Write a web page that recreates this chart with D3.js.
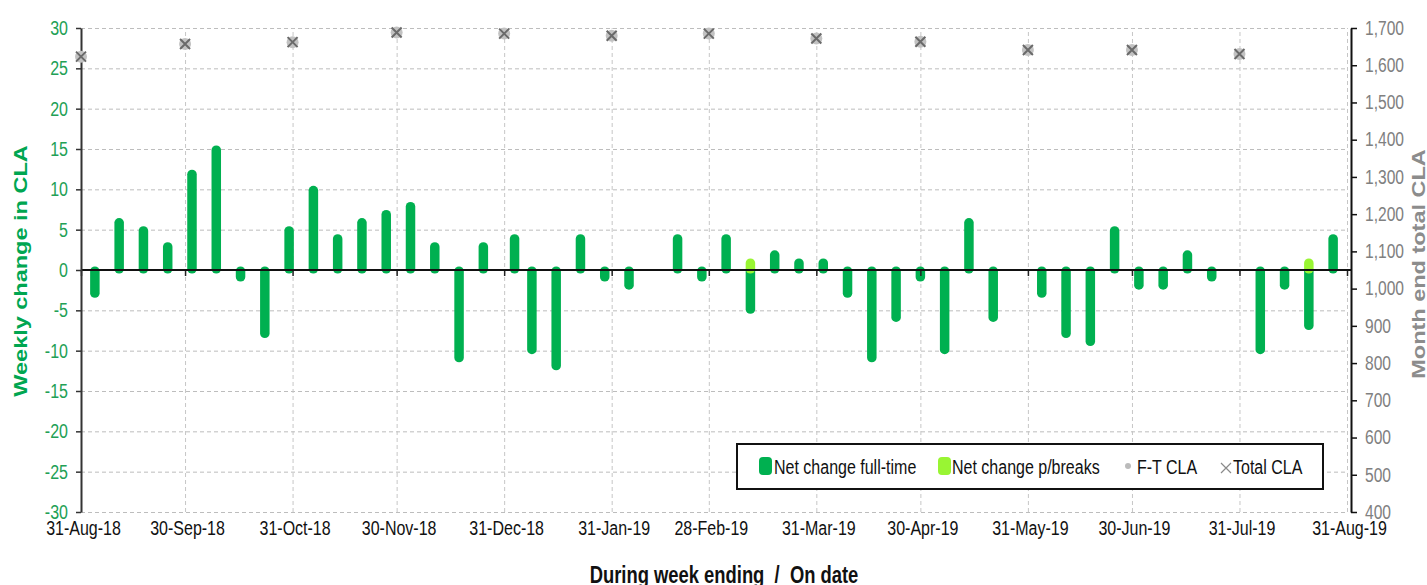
<!DOCTYPE html>
<html><head><meta charset="utf-8">
<script src="https://cdn.jsdelivr.net/npm/d3@7"></script>
<style>
body{margin:0;background:#fff}
svg{display:block}
text{font-family:"Liberation Sans",Arial,sans-serif}
</style>
</head><body>
<svg id="c" width="1427" height="585"></svg>
<script>
// ---------------- DATA ----------------
const weekDates = ["2018-09-04","2018-09-11","2018-09-18","2018-09-25","2018-10-02","2018-10-09","2018-10-16","2018-10-23","2018-10-30",
  "2018-11-06","2018-11-13","2018-11-20","2018-11-27","2018-12-04","2018-12-11","2018-12-18","2018-12-25","2019-01-03",
  "2019-01-08","2019-01-15","2019-01-22","2019-01-29","2019-02-05","2019-02-12","2019-02-19","2019-02-26","2019-03-05",
  "2019-03-12","2019-03-19","2019-03-26","2019-04-02","2019-04-09","2019-04-16","2019-04-23","2019-04-30","2019-05-07",
  "2019-05-14","2019-05-21","2019-05-28","2019-06-04","2019-06-11","2019-06-18","2019-06-25","2019-07-02","2019-07-09",
  "2019-07-16","2019-07-23","2019-07-30","2019-08-06","2019-08-13","2019-08-20","2019-08-27"];
const netFullTime = [-3,6,5,3,12,15,-1,-8,5,10,4,6,7,8,3,-11,3,4,-10,-12,4,-1,-2,0,4,-1,4,-5,2,1,1,-3,-11,-6,-1,-10,6,-6,0,-3,-8,-9,5,-2,-2,2,-1,0,-10,-2,-7,4];
const netPartTime = [0,0,0,0,0,0,0,0,0,0,0,0,0,0,0,0,0,0,0,0,0,0,0,0,0,0,0,1,0,0,0,0,0,0,0,0,0,0,0,0,0,0,0,0,0,0,0,0,0,0,1,0];
const monthEnds = ["2018-08-31","2018-09-30","2018-10-31","2018-11-30","2018-12-31","2019-01-31","2019-02-28","2019-03-31","2019-04-30","2019-05-31","2019-06-30","2019-07-31"];
const ftCLA    = [1623,1657,1662,1688,1685,1679,1685,1672,1663,1641,1641,1630];
const totalCLA = [1623,1657,1662,1688,1685,1679,1685,1672,1663,1641,1641,1630];
const xTickDates = ["2018-08-31","2018-09-30","2018-10-31","2018-11-30","2018-12-31","2019-01-31","2019-02-28","2019-03-31","2019-04-30","2019-05-31","2019-06-30","2019-07-31","2019-08-31"];
const leftTicks = [30,25,20,15,10,5,0,-5,-10,-15,-20,-25,-30];
const rightTicks = [1700,1600,1500,1400,1300,1200,1100,1000,900,800,700,600,500,400];
const legendLabels = ["Net change full-time","Net change p/breaks","F-T CLA","Total CLA"];
const leftTitle = "Weekly change in CLA";
const rightTitle = "Month end total CLA";
const xTitle = "During week ending  /  On date";

// ---------------- SETUP ----------------
const parse = d3.utcParse("%Y-%m-%d");
const svg = d3.select("#c");
const L = 81, R = 1347, T = 28, B = 512, RAX = 1351;
const SQ = 0.8;
const GREEN = "#00b050", LGREEN = "#99f533";

const x = d3.scaleUtc().domain([parse("2018-08-31"), parse("2019-08-31")]).range([L, R]);
const yL = d3.scaleLinear().domain([-30, 30]).range([B, T]);
const yR = d3.scaleLinear().domain([400, 1700]).range([B, T]);

function squish(sel, dx) {
  sel.each(function () {
    const t = d3.select(this);
    const tx = (+t.attr("x") || 0) + (dx || 0), ty = +t.attr("y") || 0;
    t.attr("x", null).attr("y", null).attr("transform", `translate(${tx},${ty}) scale(${SQ},1)`);
  });
}

// ---------------- GRID ----------------
const gridH = svg.append("g").attr("transform", `translate(${L},0)`)
  .call(d3.axisLeft(yL).tickValues(leftTicks).tickSize(-(R - L)).tickFormat(""));
gridH.select(".domain").remove();
gridH.selectAll("line").attr("stroke", "#bdbdbd").attr("stroke-dasharray", "4,3");

const gridV = svg.append("g").attr("transform", `translate(0,${B})`)
  .call(d3.axisBottom(x).tickValues(xTickDates.map(parse)).tickSize(-(B - T)).tickFormat(""));
gridV.select(".domain").remove();
gridV.selectAll("line").attr("stroke", "#c6c6c6").attr("stroke-dasharray", "4,3");

// ---------------- BARS ----------------
const CAP = 3.5, BW = 9.5;
function barRect(g, vals, color) {
  const data = weekDates.map((d, i) => ({ d: parse(d), v: vals[i] })).filter(o => o.v !== 0);
  g.selectAll(null).data(data).enter().append("rect")
    .attr("x", o => x(o.d) - BW / 2)
    .attr("width", BW)
    .attr("y", o => Math.min(yL(o.v), yL(0)) - CAP)
    .attr("height", o => Math.abs(yL(o.v) - yL(0)) + 2 * CAP)
    .attr("rx", BW / 2).attr("ry", 4.5)
    .attr("fill", color);
}
barRect(svg.append("g"), netFullTime, GREEN);
barRect(svg.append("g"), netPartTime, LGREEN);

// ---------------- AXES ----------------
// zero line with month-end tick marks
const zeroAx = svg.append("g").attr("transform", `translate(0,${yL(0)})`)
  .call(d3.axisBottom(x).tickValues(xTickDates.map(parse)).tickSize(6).tickSizeOuter(0).tickFormat(""));
zeroAx.select(".domain").remove();
zeroAx.selectAll("line").attr("stroke", "#222").attr("stroke-width", 1.5);
svg.append("line").attr("x1", L).attr("x2", RAX).attr("y1", yL(0)).attr("y2", yL(0))
  .attr("stroke", "#111").attr("stroke-width", 2);

// x labels at bottom
const xLab = svg.append("g").attr("transform", `translate(0,${B})`)
  .call(d3.axisBottom(x).tickValues(xTickDates.map(parse)).tickSize(0).tickPadding(9).tickFormat(d3.utcFormat("%d-%b-%y")));
xLab.select(".domain").remove();
xLab.selectAll("text").attr("font-size", 20).attr("fill", "#111").attr("font-family", '"Liberation Sans",Arial,sans-serif');
squish(xLab.selectAll("text"), 2);

// left axis
const yLAx = svg.append("g").attr("transform", `translate(${L},0)`)
  .call(d3.axisLeft(yL).tickValues(leftTicks).tickSize(5).tickSizeOuter(0).tickPadding(8).tickFormat(d => String(d)));
yLAx.select(".domain").attr("stroke", "#333").attr("stroke-width", 2);
yLAx.selectAll("line").attr("stroke", "#333").attr("stroke-width", 1.5);
yLAx.selectAll("text").attr("font-size", 20).attr("fill", "#22a055").attr("font-family", '"Liberation Sans",Arial,sans-serif');
squish(yLAx.selectAll("text"));

// right axis
const yRAx = svg.append("g").attr("transform", `translate(${RAX},0)`)
  .call(d3.axisRight(yR).tickValues(rightTicks).tickSize(6).tickSizeOuter(0).tickPadding(8).tickFormat(d3.format(",")));
yRAx.select(".domain").attr("stroke", "#111").attr("stroke-width", 2);
yRAx.selectAll("line").attr("stroke", "#111").attr("stroke-width", 1.5);
yRAx.selectAll("text").attr("font-size", 19.5).attr("fill", "#808080").attr("font-family", '"Liberation Sans",Arial,sans-serif');
squish(yRAx.selectAll("text"));

// ---------------- MARKERS ----------------
const mk = svg.append("g");
const mData = monthEnds.map((d, i) => ({ d: parse(d), ft: ftCLA[i], tot: totalCLA[i] }));
mk.selectAll("circle").data(mData).enter().append("circle")
  .attr("cx", o => x(o.d)).attr("cy", o => yR(o.ft)).attr("r", 6).attr("fill", "#c2c2c2");
const xs = mk.selectAll("g.x").data(mData).enter().append("g").attr("class", "x")
  .attr("transform", o => `translate(${x(o.d)},${yR(o.tot)})`);
xs.append("path").attr("d", "M-5,-5L5,5M-5,5L5,-5").attr("stroke", "#6a6a6a").attr("stroke-width", 2).attr("fill", "none");

// ---------------- TITLES ----------------
svg.append("text").text(leftTitle)
  .attr("transform", `translate(27,271) scale(${SQ},1) rotate(-90)`)
  .attr("text-anchor", "middle").attr("font-weight", "bold").attr("font-size", 23.5).attr("fill", "#00a651");
svg.append("text").text(rightTitle)
  .attr("transform", `translate(1425,264) scale(${SQ},1) rotate(-90)`)
  .attr("text-anchor", "middle").attr("font-weight", "bold").attr("font-size", 23.5).attr("fill", "#8c8c8c");
svg.append("text").text(xTitle).style("white-space", "pre")
  .attr("transform", `translate(724,583) scale(${SQ},1)`)
  .attr("text-anchor", "middle").attr("font-weight", "bold").attr("font-size", 23).attr("fill", "#111");

// ---------------- LEGEND ----------------
const lg = svg.append("g");
lg.append("rect").attr("x", 737).attr("y", 444).attr("width", 586).attr("height", 45)
  .attr("fill", "#fff").attr("stroke", "#111").attr("stroke-width", 2);
lg.append("rect").attr("x", 759).attr("y", 457).attr("width", 13).attr("height", 18).attr("rx", 4).attr("fill", GREEN);
lg.append("rect").attr("x", 938).attr("y", 457).attr("width", 13).attr("height", 18).attr("rx", 4).attr("fill", LGREEN);
lg.append("circle").attr("cx", 1128).attr("cy", 466).attr("r", 3).attr("fill", "#bbb");
lg.append("path").attr("d", "M1221,463L1231,473M1221,473L1231,463").attr("stroke", "#8a8a8a").attr("stroke-width", 1.2);
const lgX = [774, 952, 1137, 1233];
lg.selectAll("text.l").data(legendLabels).enter().append("text").attr("class", "l")
  .text(d => d)
  .attr("transform", (d, i) => `translate(${lgX[i]},474) scale(${SQ},1)`)
  .attr("font-size", 20).attr("fill", "#111");
</script>
</body></html>
